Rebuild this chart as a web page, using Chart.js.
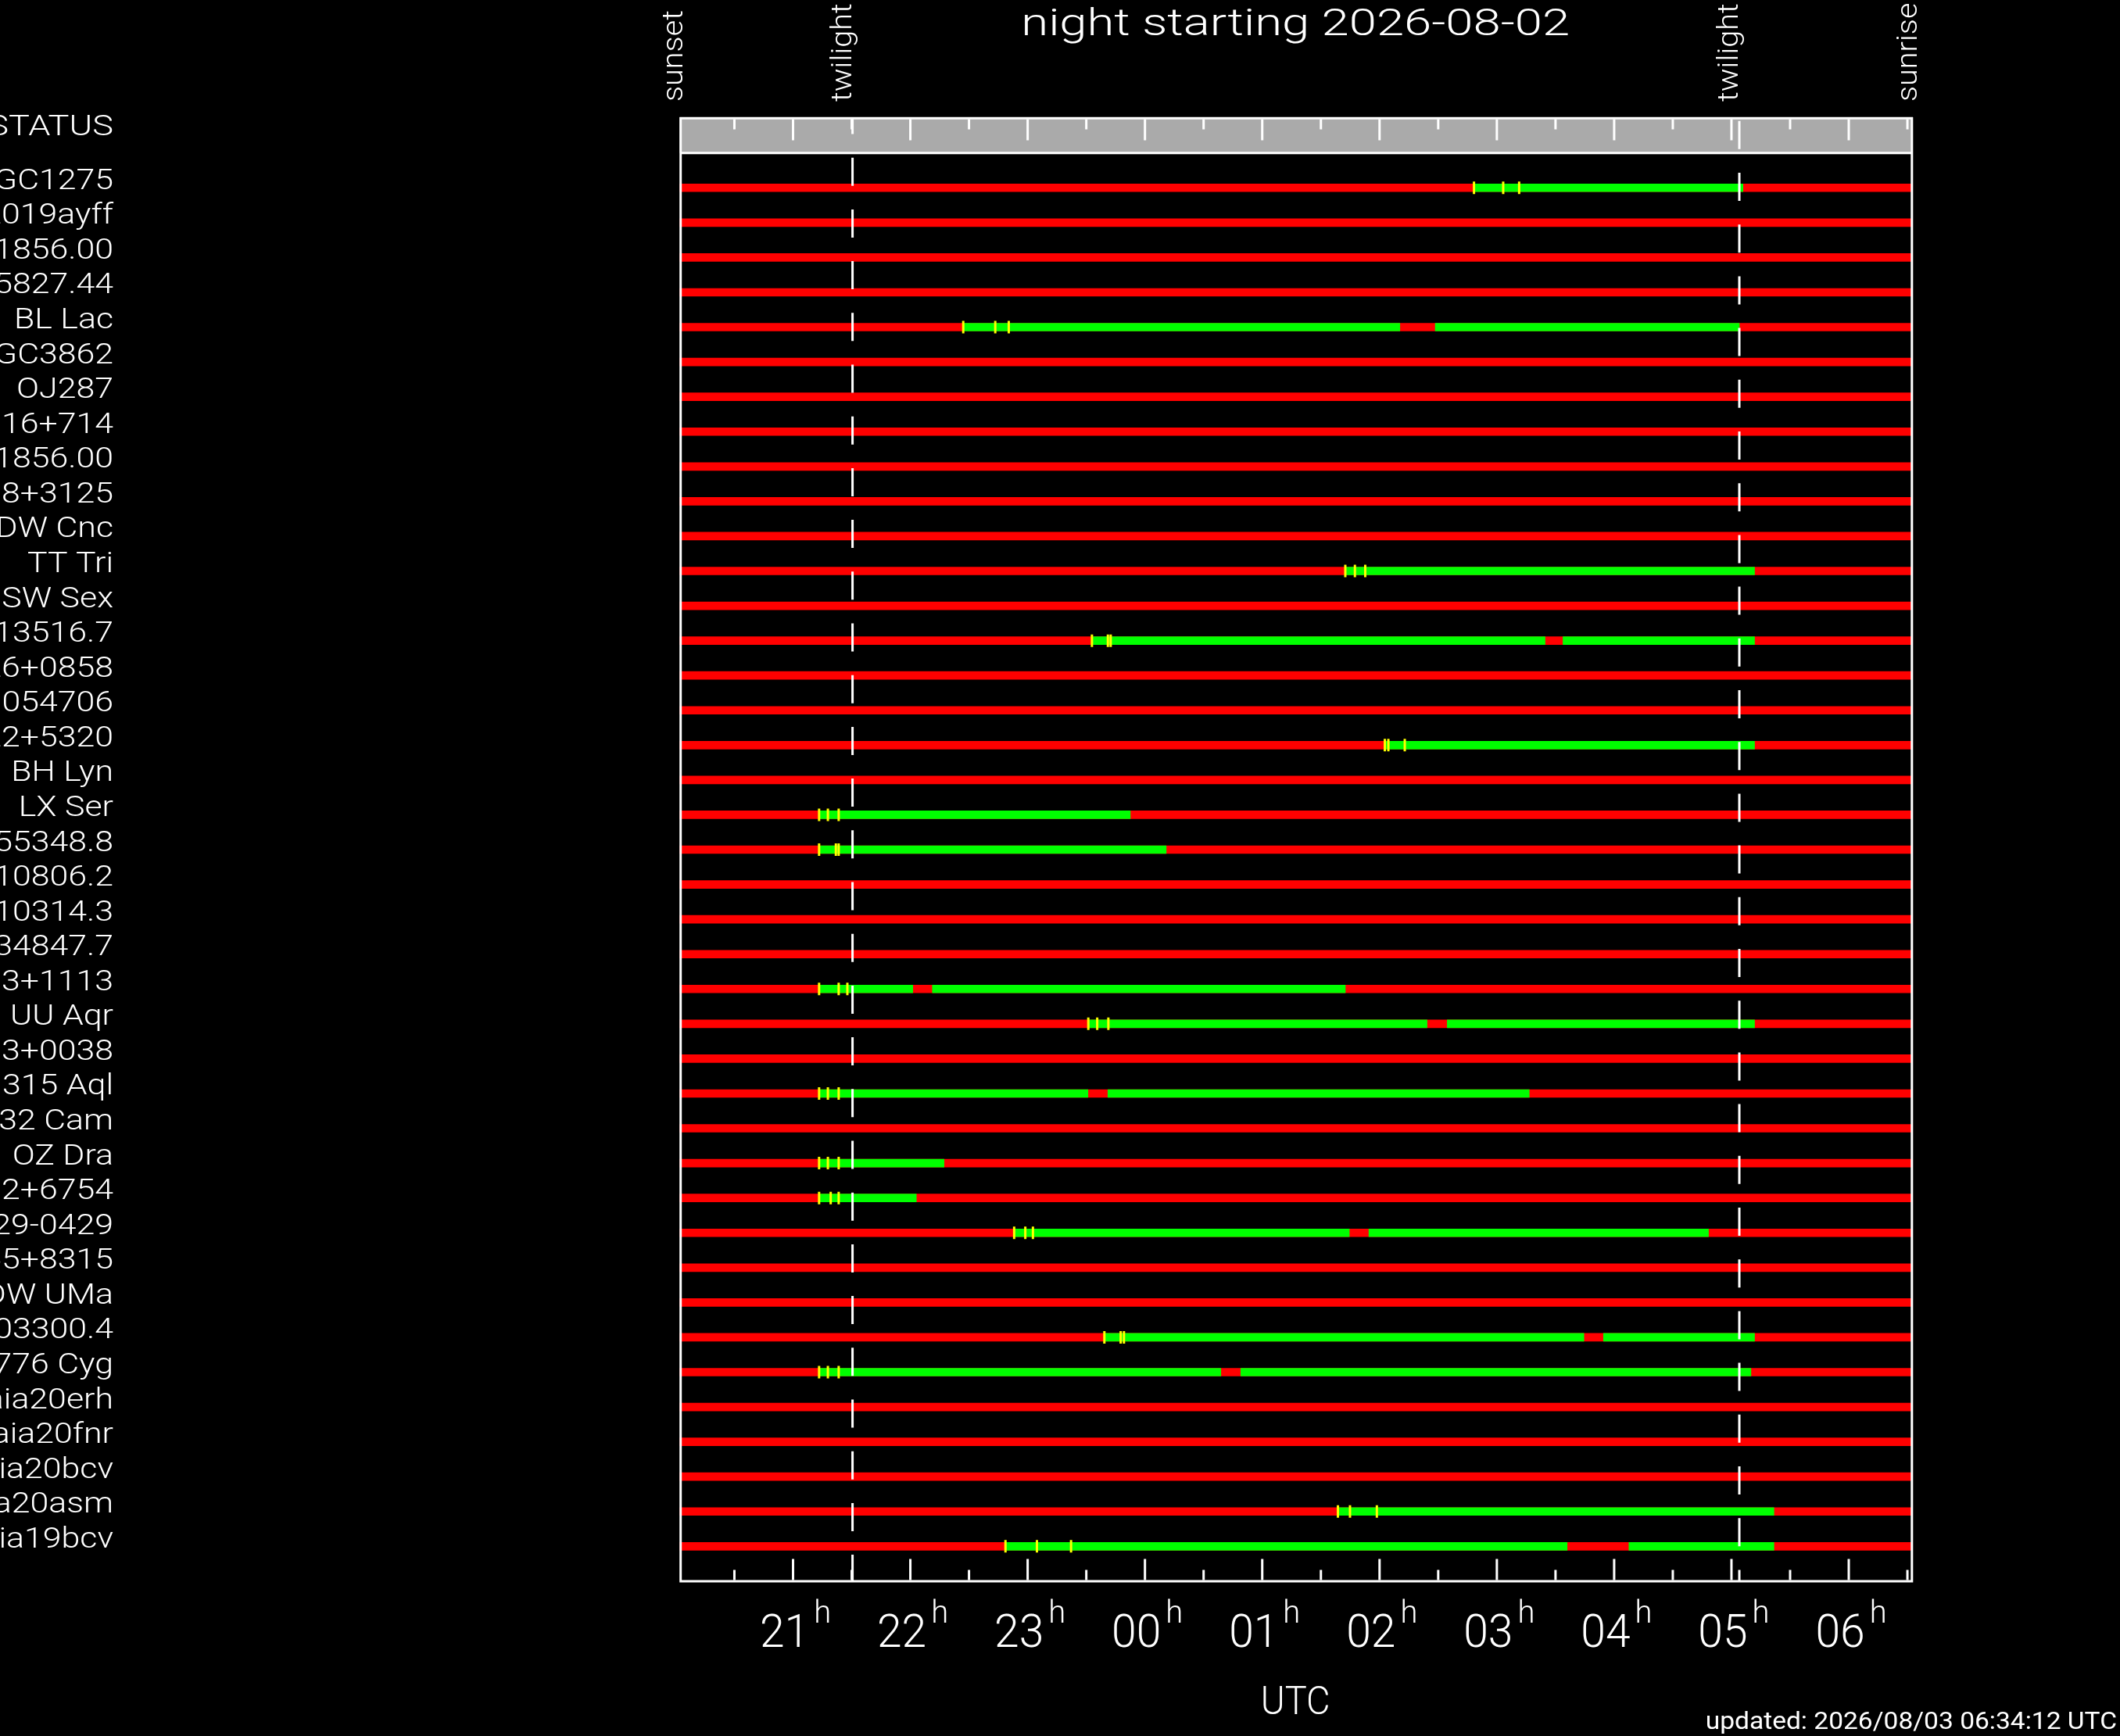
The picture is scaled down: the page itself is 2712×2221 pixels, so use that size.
<!DOCTYPE html>
<html>
<head>
<meta charset="utf-8">
<script src="https://cdn.jsdelivr.net/npm/chart.js@4.4.1/dist/chart.umd.min.js"></script>
<style>
html,body{margin:0;padding:0;background:#000;overflow:hidden}
canvas{display:block}
</style>
</head>
<body>
<canvas id="c" width="2712" height="2221" style="width:2712px;height:2221px"></canvas>
<script>
// ---------- data ----------
const titleText = 'night starting 2026-08-02';
const updatedText = 'updated: 2026/08/03 06:34:12 UTC';
const axisTitle = 'UTC';
const headerLabel = 'STATUS';

// hours counted from midnight of 2026-08-02 (24 = 00h UTC next day)
const sunset = 20.033, sunrise = 30.533;
const eveningTwilight = 21.507, morningTwilight = 29.067;
const eventTimes = [sunset, eveningTwilight, morningTwilight, sunrise];
const eventLabels = ['sunset', 'twilight', 'twilight', 'sunrise'];
const twilightTimes = [eveningTwilight, morningTwilight];

const hourTicks = [21, 22, 23, 24, 25, 26, 27, 28, 29, 30];
const hourLabels = ['21', '22', '23', '00', '01', '02', '03', '04', '05', '06'];
const halfHourTicks = [20.5, 21.5, 22.5, 23.5, 24.5, 25.5, 26.5, 27.5, 28.5, 29.5, 30.5];

const rowNames = [
  'NGC1275', 'SN2019ayff', 'HD1856.00', 'HD5827.44', 'BL Lac',
  'NGC3862', 'OJ287', 'S5 0716+714', 'GJ1856.00', '1ES 1218+3125',
  'DW Cnc', 'TT Tri', 'SW Sex', 'J1213516.7', 'PG 1026+0858',
  'RX J054706', 'PG 1222+5320', 'BH Lyn', 'LX Ser', 'J1655348.8',
  'J0410806.2', 'J1510314.3', 'J2034847.7', 'PG 1233+1113', 'UU Aqr',
  'PG 2303+0038', 'V1315 Aql', 'V1032 Cam', 'OZ Dra', 'PG 1702+6754',
  'PG 1429-0429', 'PG 0955+8315', 'DW UMa', 'J1003300.4', 'V1776 Cyg',
  'Gaia20erh', 'Gaia20fnr', 'Gaia20bcv', 'Gaia20asm', 'Gaia19bcv'
];

const N = null;
// observable windows (green), first and second piece
const greenA = [
  [26.805,29.098], N, N, N, [22.451,26.173], N, N, N, N, N,
  N, [25.708,29.197], N, [23.548,27.411], N, N, [26.045,29.197], N, [21.222,23.875], [21.222,24.181],
  N, N, N, [21.222,22.021], [23.517,26.405], N, [21.222,23.514], N, [21.222,22.287], [21.222,22.051],
  [22.885,25.742], N, N, [23.654,27.742], [21.222,24.647], N, N, N, [25.645,29.362], [22.811,27.599]
];
const greenB = [
  N, N, N, N, [26.475,29.067], N, N, N, N, N,
  N, N, N, [27.564,29.197], N, N, N, N, N, N,
  N, N, N, [22.188,25.708], [26.577,29.197], N, [23.684,27.276], N, N, N,
  [25.909,28.804], N, N, [27.909,29.197], [24.817,29.166], N, N, N, N, [28.126,29.362]
];
// yellow markers
const tick1 = [26.805,N,N,N,22.451,N,N,N,N,N, N,25.708,N,23.548,N,N,26.045,N,21.222,21.222, N,N,N,21.222,23.517,N,21.222,N,21.222,21.222, 22.885,N,N,23.654,21.222,N,N,N,25.645,22.811];
const tick2 = [27.054,N,N,N,22.724,N,N,N,N,N, N,25.790,N,23.684,N,N,26.075,N,21.297,21.365, N,N,N,21.389,23.593,N,21.297,N,21.297,21.321, 22.980,N,N,23.793,21.297,N,N,N,25.748,23.079];
const tick3 = [27.190,N,N,N,22.839,N,N,N,N,N, N,25.878,N,23.708,N,N,26.215,N,21.389,21.389, N,N,N,21.463,23.688,N,21.389,N,21.389,21.389, 23.045,N,N,23.821,21.389,N,N,N,25.977,23.370];

// ---------- helpers ----------
const FONT = 'Roboto, "DejaVu Sans", sans-serif';
function txt(ctx, s, x, y, o) {
  ctx.save();
  ctx.translate(x, y);
  if (o.rot) ctx.rotate(-Math.PI / 2);
  ctx.scale(o.sx || 1, 1);
  ctx.font = (o.w || 300) + ' ' + o.size + 'px ' + FONT;
  ctx.textAlign = o.align || 'left';
  ctx.textBaseline = 'alphabetic';
  ctx.fillStyle = o.color || '#ffffff';
  ctx.fillText(s, 0, 0);
  ctx.restore();
}
function textWidth(ctx, s, size, sx, w) {
  ctx.save();
  ctx.font = (w || 300) + ' ' + size + 'px ' + FONT;
  const m = ctx.measureText(s).width * (sx || 1);
  ctx.restore();
  return m;
}
function tickPoints(arr) {
  const out = [];
  arr.forEach((v, i) => { if (v !== null) out.push({ x: v, y: rowNames[i] }); });
  return out;
}

const eventLabelShift = [3.6, -2, -2, 7];
const dashOffsets = [14.5, 61.4];

const framePlugin = {
  id: 'frame',
  beforeDraw(chart) {
    const { ctx, chartArea: a } = chart;
    const sp = (a.bottom - a.top) / rowNames.length;
    const rowsTop = a.top - sp / 2;
    const bandTop = rowsTop - 45.7;
    ctx.save();
    ctx.fillStyle = '#000000';
    ctx.fillRect(0, 0, chart.width, chart.height);
    ctx.fillStyle = '#aaaaaa';
    ctx.fillRect(a.left, bandTop, a.right - a.left, rowsTop - bandTop);
    ctx.restore();
  },
  afterDatasetsDraw(chart) {
    const { ctx, chartArea: a, scales: { x } } = chart;
    const sp = (a.bottom - a.top) / rowNames.length;
    const rowsTop = a.top - sp / 2;
    const rowsBottom = a.bottom + sp / 2;
    const bandTop = rowsTop - 45.7;
    ctx.save();
    ctx.strokeStyle = '#ffffff';
    ctx.lineWidth = 3;
    ctx.lineCap = 'butt';
    // ticks
    const drawTick = (v, len) => {
      const px = x.getPixelForValue(v);
      ctx.beginPath();
      ctx.moveTo(px, bandTop + 2.5); ctx.lineTo(px, bandTop + 2.5 + len);
      ctx.moveTo(px, rowsBottom - 1.5); ctx.lineTo(px, rowsBottom - 1.5 - len);
      ctx.stroke();
    };
    hourTicks.forEach(v => drawTick(v, 27));
    halfHourTicks.forEach(v => drawTick(v, 13));
    // frame
    ctx.beginPath();
    ctx.moveTo(a.left, bandTop + 1.3); ctx.lineTo(a.right + 2, bandTop + 1.3);
    ctx.moveTo(a.left, rowsTop); ctx.lineTo(a.right + 2, rowsTop);
    ctx.moveTo(a.left + 1.3, bandTop); ctx.lineTo(a.left + 1.3, rowsBottom + 1.5);
    ctx.moveTo(a.right + 0.8, bandTop); ctx.lineTo(a.right + 0.8, rowsBottom + 1.5);
    ctx.moveTo(a.left, rowsBottom); ctx.lineTo(a.right + 2, rowsBottom);
    ctx.stroke();
    // twilight dashed lines
    twilightTimes.forEach((t, i) => {
      const px = x.getPixelForValue(t);
      ctx.setLineDash([36, 30.2]);
      ctx.lineDashOffset = dashOffsets[i];
      ctx.beginPath();
      ctx.moveTo(px, bandTop); ctx.lineTo(px, rowsBottom);
      ctx.stroke();
    });
    ctx.setLineDash([]);
    ctx.restore();
  },
  afterDraw(chart) {
    const { ctx, chartArea: a, scales: { x, y } } = chart;
    const cx = (a.left + a.right) / 2;
    // title
    txt(ctx, titleText, cx, 45, { size: 48, sx: 1.32, align: 'center' });
    // event labels (rotated)
    eventTimes.forEach((t, i) => {
      txt(ctx, eventLabels[i], x.getPixelForValue(t) + eventLabelShift[i], 130, { size: 36, sx: 1.1, rot: true });
    });
    // row labels
    txt(ctx, headerLabel, 145, 172.5, { size: 37, sx: 1.22, align: 'right' });
    rowNames.forEach((n, i) => {
      txt(ctx, n, 145, y.getPixelForValue(i) + 1.5, { size: 36, sx: 1.19, align: 'right' });
    });
    // hour labels with superscript h
    hourTicks.forEach((v, i) => {
      const px = x.getPixelForValue(v);
      const wd = textWidth(ctx, hourLabels[i], 60, 0.95);
      const wh = textWidth(ctx, 'h', 40, 1);
      const gap = 6;
      const x0 = px - (wd + gap + wh) / 2 + 3;
      txt(ctx, hourLabels[i], x0, 2107, { size: 60, sx: 0.95 });
      txt(ctx, 'h', x0 + wd + gap, 2076, { size: 40 });
    });
    // axis title
    txt(ctx, axisTitle, cx, 2193, { size: 50, sx: 0.94, align: 'center' });
    // updated stamp
    txt(ctx, updatedText, 2708, 2212, { size: 30.5, sx: 1.1, align: 'right', w: 400 });
  }
};

const barCommon = { barThickness: 10, grouped: false, borderWidth: 0, borderSkipped: false };
const tickCommon = {
  type: 'line', showLine: false, pointStyle: 'line', rotation: 90,
  pointRadius: 8, pointHoverRadius: 8, pointBorderWidth: 3, borderColor: '#ffff00',
  pointBorderColor: '#ffff00', backgroundColor: '#ffff00', order: 1
};

new Chart(document.getElementById('c'), {
  type: 'bar',
  data: {
    labels: rowNames,
    datasets: [
      Object.assign({ label: 'start 1', data: tickPoints(tick1) }, tickCommon),
      Object.assign({ label: 'start 2', data: tickPoints(tick2) }, tickCommon),
      Object.assign({ label: 'start 3', data: tickPoints(tick3) }, tickCommon),
      Object.assign({ label: 'observable', data: greenA, backgroundColor: '#00ff00', order: 2 }, barCommon),
      Object.assign({ label: 'observable (2)', data: greenB, backgroundColor: '#00ff00', order: 2 }, barCommon),
      Object.assign({ label: 'not observable', data: rowNames.map(() => [sunset, sunrise]), backgroundColor: '#ff0000', order: 3 }, barCommon)
    ]
  },
  options: {
    indexAxis: 'y',
    responsive: false,
    animation: false,
    devicePixelRatio: 1,
    events: [],
    layout: { padding: { left: 869.4, right: 267, top: 218, bottom: 220.4 } },
    plugins: { legend: { display: false }, tooltip: { enabled: false } },
    scales: {
      x: { type: 'linear', min: sunset, max: sunrise, display: false },
      y: { type: 'category', display: false, offset: true }
    }
  },
  plugins: [framePlugin]
});
</script>
</body>
</html>
